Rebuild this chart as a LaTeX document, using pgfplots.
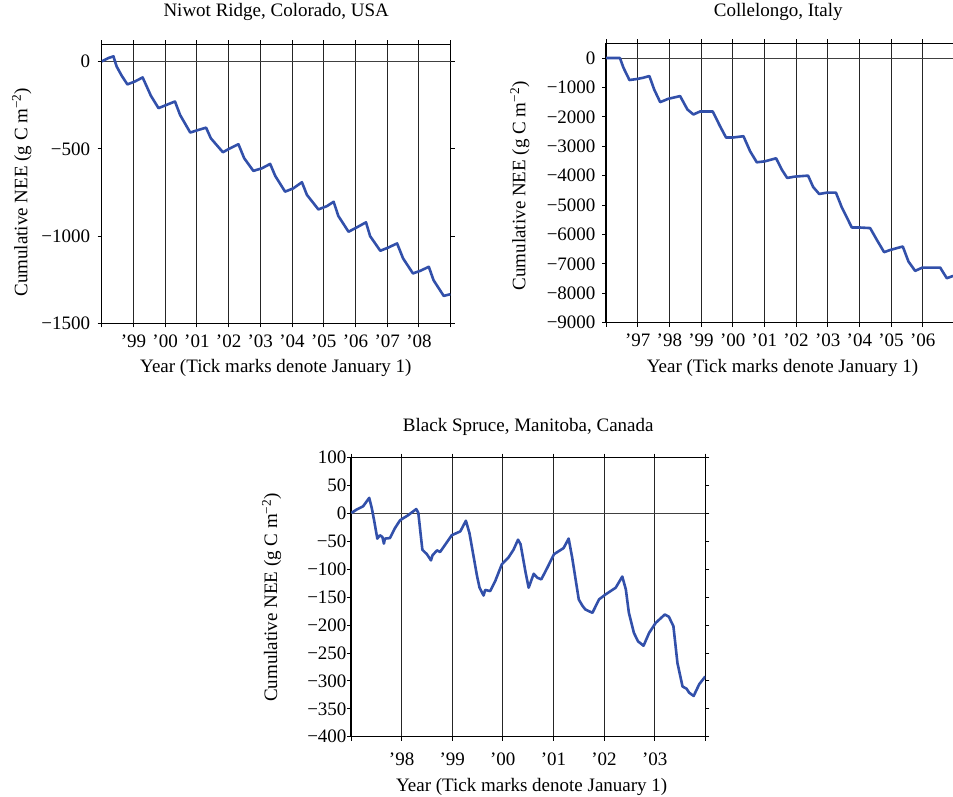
\documentclass[border=0pt]{standalone}
\usepackage{fontspec}
\setmainfont{Liberation Serif}
\usepackage{pgfplots}
\pgfplotsset{compat=1.18}
\definecolor{lineblue}{RGB}{50,80,170}
\pgfplotsset{
  neeaxis/.style={
    scale only axis,
    anchor=south west,
    axis line style={line width=1.3pt,black},
    tick align=outside,
    tickpos=both,
    major tick length=4pt,
    tick style={line width=0.9pt,black},
    xmajorgrids,
    grid style={line width=1pt,black!85},
    font=\fontsize{19}{22}\selectfont,
    every tick label/.append style={font=\fontsize{19}{22}\selectfont},
    xlabel={Year (Tick marks denote January 1)},
    ylabel={Cumulative NEE (g C m\textsuperscript{−2})},
    clip=true,
  },
  neeline/.style={lineblue,line width=2.6pt,line join=round},
}
\begin{document}
\begin{tikzpicture}[font=\fontsize{19}{22}\selectfont]
\useasboundingbox (0,0) rectangle (953pt,796pt);
% ---------------- Niwot Ridge ----------------
\begin{axis}[neeaxis,
  at={(101.7pt,472.7pt)}, width=349pt, height=279pt,
  xmin=1998, xmax=2009, ymin=-1500, ymax=100,
  xtick={1998,1999,...,2009},
  xticklabels={,’99,’00,’01,’02,’03,’04,’05,’06,’07,’08,},
  ytick={-1500,-1000,-500,0},
  yticklabels={−1500,−1000,−500,0},
  xticklabel style={yshift=-4pt},
  yticklabel style={xshift=-4pt},
  title={Niwot Ridge, Colorado, USA},
  title style={at={(axis description cs:0.5,1.094)},anchor=center},
  xlabel style={at={(axis description cs:0.499,-0.161)},anchor=center},
  ylabel style={at={(axis description cs:-0.229,0.47)},anchor=center},
]
\draw[line width=0.9pt,black!75] (axis cs:1998,0) -- (axis cs:2009,0);
\addplot[neeline] coordinates {
(1998.0,2)(1998.21,21)(1998.37,31)(1998.47,-27)(1998.63,-80)(1998.81,-130)
(1999.05,-113)(1999.29,-90)(1999.37,-122)(1999.55,-195)(1999.79,-266)
(2000.05,-247)(2000.31,-228)(2000.47,-305)(2000.79,-406)
(2001.05,-391)(2001.29,-378)(2001.44,-439)(2001.82,-519)
(2002.05,-496)(2002.31,-473)(2002.49,-553)(2002.78,-626)
(2003.05,-611)(2003.31,-586)(2003.47,-655)(2003.78,-745)
(2004.04,-726)(2004.31,-691)(2004.47,-764)(2004.83,-847)
(2005.1,-828)(2005.31,-803)(2005.46,-885)(2005.78,-975)
(2006.04,-950)(2006.33,-921)(2006.46,-1000)(2006.78,-1084)
(2007.04,-1065)(2007.31,-1042)(2007.5,-1128)(2007.81,-1214)
(2008.04,-1199)(2008.31,-1176)(2008.46,-1253)(2008.78,-1343)(2008.99,-1333)
};
\end{axis}
% ---------------- Collelongo ----------------
\begin{axis}[neeaxis,
  at={(606pt,473.3pt)}, width=348.4pt, height=279.4pt,
  xmin=1996, xmax=2007, ymin=-9000, ymax=500,
  xtick={1996,1997,...,2007},
  xticklabels={,’97,’98,’99,’00,’01,’02,’03,’04,’05,’06,},
  ytick={-9000,-8000,...,0},
  yticklabels={−9000,−8000,−7000,−6000,−5000,−4000,−3000,−2000,−1000,0},
  xticklabel style={yshift=-4pt},
  yticklabel style={xshift=-3pt},
  title={Collelongo, Italy},
  title style={at={(axis description cs:0.4946,1.0895)},anchor=center},
  xlabel style={at={(axis description cs:0.5066,-0.163)},anchor=center},
  ylabel style={at={(axis description cs:-0.247,0.49)},anchor=center},
]
\draw[line width=0.9pt,black!75] (axis cs:1996,0) -- (axis cs:2007,0);
\addplot[neeline] coordinates {
(1996.0,0)(1996.44,0)(1996.55,-328)(1996.74,-749)(1996.97,-715)(1997.18,-670)
(1997.37,-613)(1997.52,-1068)(1997.71,-1500)(1997.97,-1386)(1998.34,-1295)
(1998.57,-1750)(1998.76,-1920)(1998.97,-1818)(1999.37,-1818)(1999.6,-2318)
(1999.79,-2704)(2000.0,-2704)(2000.34,-2659)(2000.55,-3170)(2000.76,-3546)
(2001.02,-3512)(2001.37,-3410)(2001.55,-3795)(2001.72,-4078)(2001.96,-4033)
(2002.38,-3999)(2002.54,-4385)(2002.73,-4623)(2002.97,-4579)(2003.26,-4579)
(2003.44,-5067)(2003.76,-5762)(2003.99,-5762)(2004.34,-5783)(2004.55,-6182)
(2004.78,-6601)(2004.99,-6522)(2005.37,-6409)(2005.55,-6921)(2005.76,-7238)
(2005.99,-7125)(2006.55,-7125)(2006.76,-7488)(2006.96,-7409)
};
\end{axis}
% ---------------- Black Spruce ----------------
\begin{axis}[neeaxis,
  at={(351pt,59.3pt)}, width=354.3pt, height=279pt,
  xmin=1997, xmax=2004, ymin=-400, ymax=100,
  xtick={1997,1998,...,2004},
  xticklabels={,’98,’99,’00,’01,’02,’03,},
  ytick={-400,-350,...,100},
  yticklabels={−400,−350,−300,−250,−200,−150,−100,−50,0,50,100},
  xticklabel style={yshift=-9pt},
  yticklabel style={xshift=3pt},
  title={Black Spruce, Manitoba, Canada},
  title style={at={(axis description cs:0.5004,1.0875)},anchor=center},
  xlabel style={at={(axis description cs:0.51,-0.179)},anchor=center},
  ylabel style={at={(axis description cs:-0.224,0.499)},anchor=center},
]
\draw[line width=0.9pt,black!75] (axis cs:1997,0) -- (axis cs:2004,0);
\addplot[neeline] coordinates {
(1997.01,1)(1997.11,7)(1997.24,13)(1997.36,28)(1997.41,10)(1997.46,-14)
(1997.52,-45)(1997.57,-39)(1997.62,-42)(1997.65,-54)(1997.67,-45)(1997.77,-44)
(1997.87,-26)(1997.97,-12)(1998.13,-3)(1998.29,8)(1998.33,1)(1998.41,-65)
(1998.5,-73)(1998.58,-84)(1998.61,-75)(1998.7,-66)(1998.76,-69)(1998.86,-56)
(1998.99,-39)(1999.16,-32)(1999.27,-13)(1999.34,-35)(1999.42,-76)(1999.49,-112)
(1999.54,-133)(1999.62,-147)(1999.65,-137)(1999.75,-139)(1999.85,-121)
(1999.98,-91)(2000.11,-79)(2000.21,-65)(2000.3,-47)(2000.35,-55)(2000.45,-106)
(2000.51,-133)(2000.61,-108)(2000.68,-115)(2000.76,-118)(2000.88,-97)
(2001.01,-73)(2001.2,-62)(2001.3,-45)(2001.37,-79)(2001.5,-154)(2001.57,-165)
(2001.63,-172)(2001.77,-178)(2001.9,-154)(2002.03,-145)(2002.23,-133)
(2002.36,-113)(2002.43,-136)(2002.49,-178)(2002.59,-214)(2002.67,-229)
(2002.78,-237)(2002.89,-214)(2003.02,-196)(2003.2,-181)(2003.28,-185)
(2003.37,-202)(2003.45,-268)(2003.55,-310)(2003.63,-314)(2003.68,-321)
(2003.77,-327)(2003.88,-306)(2004.0,-292)
};
\end{axis}
\end{tikzpicture}
\end{document}
